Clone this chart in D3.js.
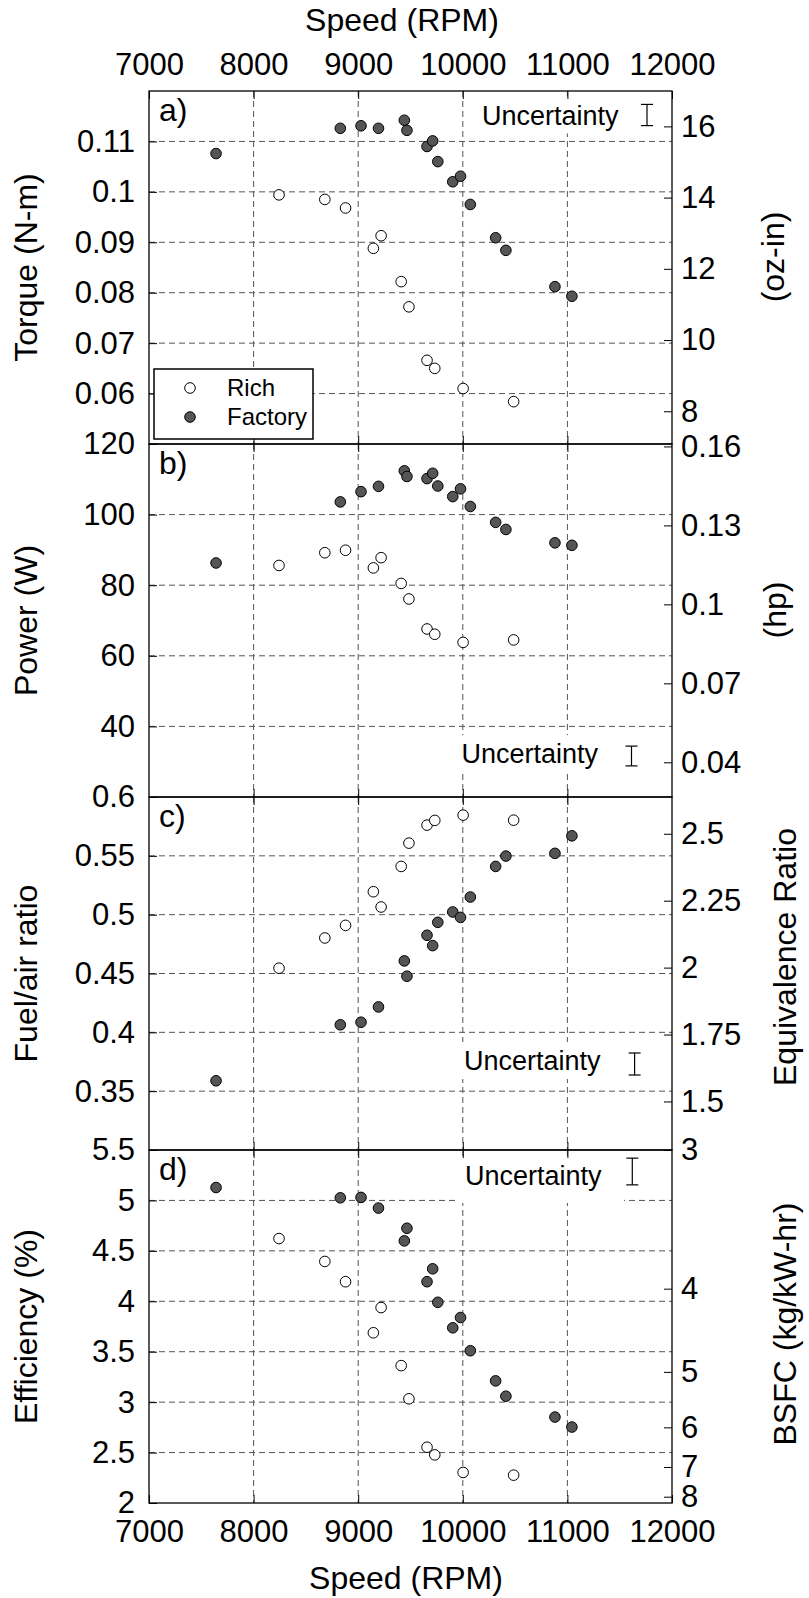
<!DOCTYPE html>
<html>
<head>
<meta charset="utf-8">
<script src="https://cdn.jsdelivr.net/npm/d3@7"></script>
<style>
  body { margin: 0; background: #fff; }
  svg text { font-family: "Liberation Sans", Arial, sans-serif; fill: #000; }
</style>
</head>
<body>
<svg width="809" height="1598"></svg>
<script>
// ---- data ----
const speedTicks = [7000, 8000, 9000, 10000, 11000, 12000];
const speedGrid = [8000, 9000, 10000, 11000];

const richSpeed = [8243, 8681, 8879, 9145, 9219, 9411, 9485, 9658, 9732, 10003, 10486];
const factorySpeed = [7641, 8829, 9027, 9194, 9441, 9466, 9658, 9712, 9761, 9904, 9978, 10072, 10314, 10412, 10881, 11043];

const richTorque = [0.0994, 0.0985, 0.0968, 0.0888, 0.0913, 0.0822, 0.0772, 0.0666, 0.0650, 0.0610, 0.0584];
const factoryTorque = [0.1076, 0.1126, 0.1131, 0.1126, 0.1142, 0.1122, 0.1090, 0.1101, 0.1060, 0.1020, 0.1031, 0.0975, 0.0909, 0.0884, 0.0812, 0.0793];

const richPower = [85.6, 89.2, 89.9, 84.9, 87.8, 80.5, 76.1, 67.6, 66.1, 63.8, 64.5];
const factoryPower = [86.3, 103.6, 106.5, 108.0, 112.4, 110.8, 110.2, 111.7, 108.1, 105.1, 107.3, 102.3, 97.8, 95.8, 92.0, 91.3];

const richFuelAir = [0.4545, 0.4802, 0.4909, 0.5195, 0.5065, 0.5410, 0.5608, 0.5761, 0.5801, 0.5846, 0.5803];
const factoryFuelAir = [0.3588, 0.4064, 0.4086, 0.4216, 0.4607, 0.4477, 0.4825, 0.4737, 0.4935, 0.5023, 0.4977, 0.5150, 0.5410, 0.5498, 0.5521, 0.5670];

const richEff = [4.622, 4.395, 4.194, 3.688, 3.938, 3.362, 3.033, 2.553, 2.477, 2.303, 2.276];
const factoryEff = [5.128, 5.026, 5.030, 4.924, 4.599, 4.724, 4.194, 4.322, 3.990, 3.737, 3.839, 3.510, 3.211, 3.059, 2.852, 2.753];

// axis ticks
const torqueTicks = [0.06, 0.07, 0.08, 0.09, 0.1, 0.11];
const ozinTicks = [8, 10, 12, 14, 16];
const powerTicks = [40, 60, 80, 100, 120];
const hpTicks = [0.04, 0.07, 0.1, 0.13, 0.16];
const fuelAirTicks = [0.35, 0.4, 0.45, 0.5, 0.55, 0.6];
const eqRatioTicks = [1.5, 1.75, 2, 2.25, 2.5];
const effTicks = [2, 2.5, 3, 3.5, 4, 4.5, 5, 5.5];
const bsfcTicks = [3, 4, 5, 6, 7, 8];

// uncertainty (full bar span, data units)
const uncertainty = [0.0042, 5.6, 0.0187, 0.265];

// unit conversions
const OZIN_PER_NM = 141.612;
const W_PER_HP = 745.7;
const STOICH_FA = 0.2275;
const BSFC_K = 16.5; // BSFC (kg/kW-hr) = K / efficiency(%)

// ---- layout ----
const left = 149, right = 672;
const top0 = 91, panelH = 353;
const svg = d3.select('svg');
const font = 31;

const xScale = d3.scaleLinear().domain([7000, 12000]).range([left, right]);

const panels = [
    { letter: 'a)', domain: [0.05, 0.12], leftTicks: torqueTicks, grid: [0.06, 0.07, 0.08, 0.09, 0.1, 0.11],
      rich: richTorque, factory: factoryTorque, leftTitle: 'Torque (N-m)', rightTitle: '(oz-in)',
      right: y => d3.scaleLinear().domain(y.domain().map(v => v * OZIN_PER_NM)).range(y.range()), rightTicks: ozinTicks,
      rtX: 784, rtY: 257, unc: { tx: 482, ty: 124.5, bx: 647, by: 115, padR: 6, padB: 3 } },
    { letter: 'b)', domain: [20, 120], leftTicks: powerTicks, grid: [40, 60, 80, 100],
      rich: richPower, factory: factoryPower, leftTitle: 'Power (W)', rightTitle: '(hp)',
      right: y => d3.scaleLinear().domain(y.domain().map(v => v / W_PER_HP)).range(y.range()), rightTicks: hpTicks,
      rtX: 786, rtY: 610, unc: { tx: 461.5, ty: 763, bx: 631.5, by: 756, padR: 6, padB: 3 } },
    { letter: 'c)', domain: [0.3, 0.6], leftTicks: fuelAirTicks, grid: [0.35, 0.4, 0.45, 0.5, 0.55],
      rich: richFuelAir, factory: factoryFuelAir, leftTitle: 'Fuel/air ratio', rightTitle: 'Equivalence Ratio',
      right: y => d3.scaleLinear().domain(y.domain().map(v => v / STOICH_FA)).range(y.range()), rightTicks: eqRatioTicks,
      rtX: 796, rtY: 957, unc: { tx: 464, ty: 1070, bx: 634.6, by: 1064, padR: 6, padB: 3 } },
    { letter: 'd)', domain: [2, 5.5], leftTicks: effTicks, grid: [2.5, 3, 3.5, 4, 4.5, 5],
      rich: richEff, factory: factoryEff, leftTitle: 'Efficiency (%)', rightTitle: 'BSFC (kg/kW-hr)',
      right: y => d3.scalePow().exponent(-1).domain(y.domain().map(v => BSFC_K / v)).range(y.range()), rightTicks: bsfcTicks,
      rtX: 796, rtY: 1324, unc: { tx: 465, ty: 1185, bx: 632.3, by: 1171.5, padR: 22, padB: 12 } }
];

function styleAxis(g, size) {
    g.select('.domain').remove();
    g.selectAll('.tick line').attr('stroke', '#000');
    g.selectAll('.tick text').style('font-size', size + 'px').attr('fill', '#000')
        .style('font-family', '"Liberation Sans", Arial, sans-serif');
}

panels.forEach((p, i) => {
    const top = top0 + i * panelH;
    const bottom = top + panelH;
    const yScale = d3.scaleLinear().domain(p.domain).range([bottom, top]);
    const yRight = p.right(yScale);
    const g = svg.append('g');

    // Gridlines
    g.selectAll('.hgrid').data(p.grid).join('line')
        .attr('x1', left).attr('x2', right)
        .attr('y1', d => yScale(d)).attr('y2', d => yScale(d))
        .attr('stroke', '#555').attr('stroke-width', 1).attr('stroke-dasharray', '6,4');
    g.selectAll('.vgrid').data(speedGrid).join('line')
        .attr('x1', d => xScale(d)).attr('x2', d => xScale(d))
        .attr('y1', top).attr('y2', bottom)
        .attr('stroke', '#555').attr('stroke-width', 1).attr('stroke-dasharray', '6,4');

    // Uncertainty label (white background hides grid)
    const u = p.unc;
    const ut = g.append('text').text('Uncertainty')
        .attr('x', u.tx).attr('y', u.ty).style('font-size', '27px');
    const bb = ut.node().getBBox();
    const boxTop = Math.max(top + 1, bb.y - 4);
    g.insert('rect', 'text')
        .attr('x', bb.x - 6).attr('y', boxTop)
        .attr('width', bb.width + 6 + u.padR).attr('height', bb.y + bb.height + u.padB - boxTop)
        .attr('fill', '#fff');
    const half = Math.abs(yScale(p.domain[0] + uncertainty[i] / 2) - yScale(p.domain[0]));
    const eb = g.append('g').attr('stroke', '#000').attr('stroke-width', 1.2);
    eb.append('line').attr('x1', u.bx).attr('x2', u.bx).attr('y1', u.by - half).attr('y2', u.by + half);
    eb.append('line').attr('x1', u.bx - 6).attr('x2', u.bx + 6).attr('y1', u.by - half).attr('y2', u.by - half);
    eb.append('line').attr('x1', u.bx - 6).attr('x2', u.bx + 6).attr('y1', u.by + half).attr('y2', u.by + half);

    // Points
    g.selectAll('.factory').data(p.factory).join('circle')
        .attr('cx', (d, j) => xScale(factorySpeed[j]))
        .attr('cy', d => yScale(d))
        .attr('r', 5.3)
        .attr('fill', '#555').attr('stroke', '#000').attr('stroke-width', 1);
    g.selectAll('.rich').data(p.rich).join('circle')
        .attr('cx', (d, j) => xScale(richSpeed[j]))
        .attr('cy', d => yScale(d))
        .attr('r', 5.3)
        .attr('fill', '#fff').attr('stroke', '#000').attr('stroke-width', 1);

    // Axes (ticks inward)
    const yAxis = d3.axisLeft(yScale).tickValues(p.leftTicks).tickSizeInner(-8).tickSizeOuter(0)
        .tickPadding(14).tickFormat(d => String(d));
    g.append('g').attr('transform', `translate(${left}, 0)`).call(yAxis).call(a => styleAxis(a, font));

    const rAxis = d3.axisRight(yRight).tickValues(p.rightTicks).tickSizeInner(-8).tickSizeOuter(0)
        .tickPadding(9).tickFormat(d => String(d));
    g.append('g').attr('transform', `translate(${right}, 0)`).call(rAxis).call(a => styleAxis(a, font));

    const tAxis = d3.axisTop(xScale).tickValues(i === 0 ? speedTicks : speedGrid).tickSizeInner(-8)
        .tickSizeOuter(0).tickPadding(16).tickFormat(i === 0 ? d => String(d) : '');
    g.append('g').attr('transform', `translate(0, ${top})`).call(tAxis).call(a => styleAxis(a, font));
    const bAxis = d3.axisBottom(xScale).tickValues(i === 3 ? speedTicks : speedGrid).tickSizeInner(-8)
        .tickSizeOuter(0).tickPadding(16.7).tickFormat(i === 3 ? d => String(d) : '');
    g.append('g').attr('transform', `translate(0, ${bottom})`).call(bAxis).call(a => styleAxis(a, font));

    // Frame
    g.append('rect').attr('x', left).attr('y', top).attr('width', right - left).attr('height', panelH)
        .attr('fill', 'none').attr('stroke', '#000').attr('stroke-width', 1.3);

    // Panel letter
    g.append('text').text(p.letter).attr('x', 159).attr('y', top + 30).style('font-size', '32px');

    // Titles
    g.append('text').text(p.leftTitle)
        .attr('transform', `translate(37, ${(top + bottom) / 2}) rotate(-90)`)
        .style('text-anchor', 'middle').style('font-size', '32px');
    g.append('text').text(p.rightTitle)
        .attr('transform', `translate(${p.rtX}, ${p.rtY}) rotate(-90)`)
        .style('text-anchor', 'middle').style('font-size', '32px');
});

// Speed titles
svg.append('text').text('Speed (RPM)').attr('x', 402).attr('y', 30.7)
    .style('text-anchor', 'middle').style('font-size', '32px');
svg.append('text').text('Speed (RPM)').attr('x', 406).attr('y', 1589)
    .style('text-anchor', 'middle').style('font-size', '32px');

// Legend
const legend = svg.append('g');
legend.append('rect').attr('x', 154).attr('y', 369).attr('width', 159).attr('height', 70)
    .attr('fill', '#fff').attr('stroke', '#000').attr('stroke-width', 1.5);
const legendItems = ['Rich', 'Factory'];
const legendFill = ['#fff', '#555'];
legendItems.forEach((name, i) => {
    legend.append('circle').attr('cx', 190).attr('cy', 388 + i * 29).attr('r', 5.3)
        .attr('fill', legendFill[i]).attr('stroke', '#000');
    legend.append('text').text(name).attr('x', 227).attr('y', 396 + i * 29).style('font-size', '24px');
});
</script>
</body>
</html>
